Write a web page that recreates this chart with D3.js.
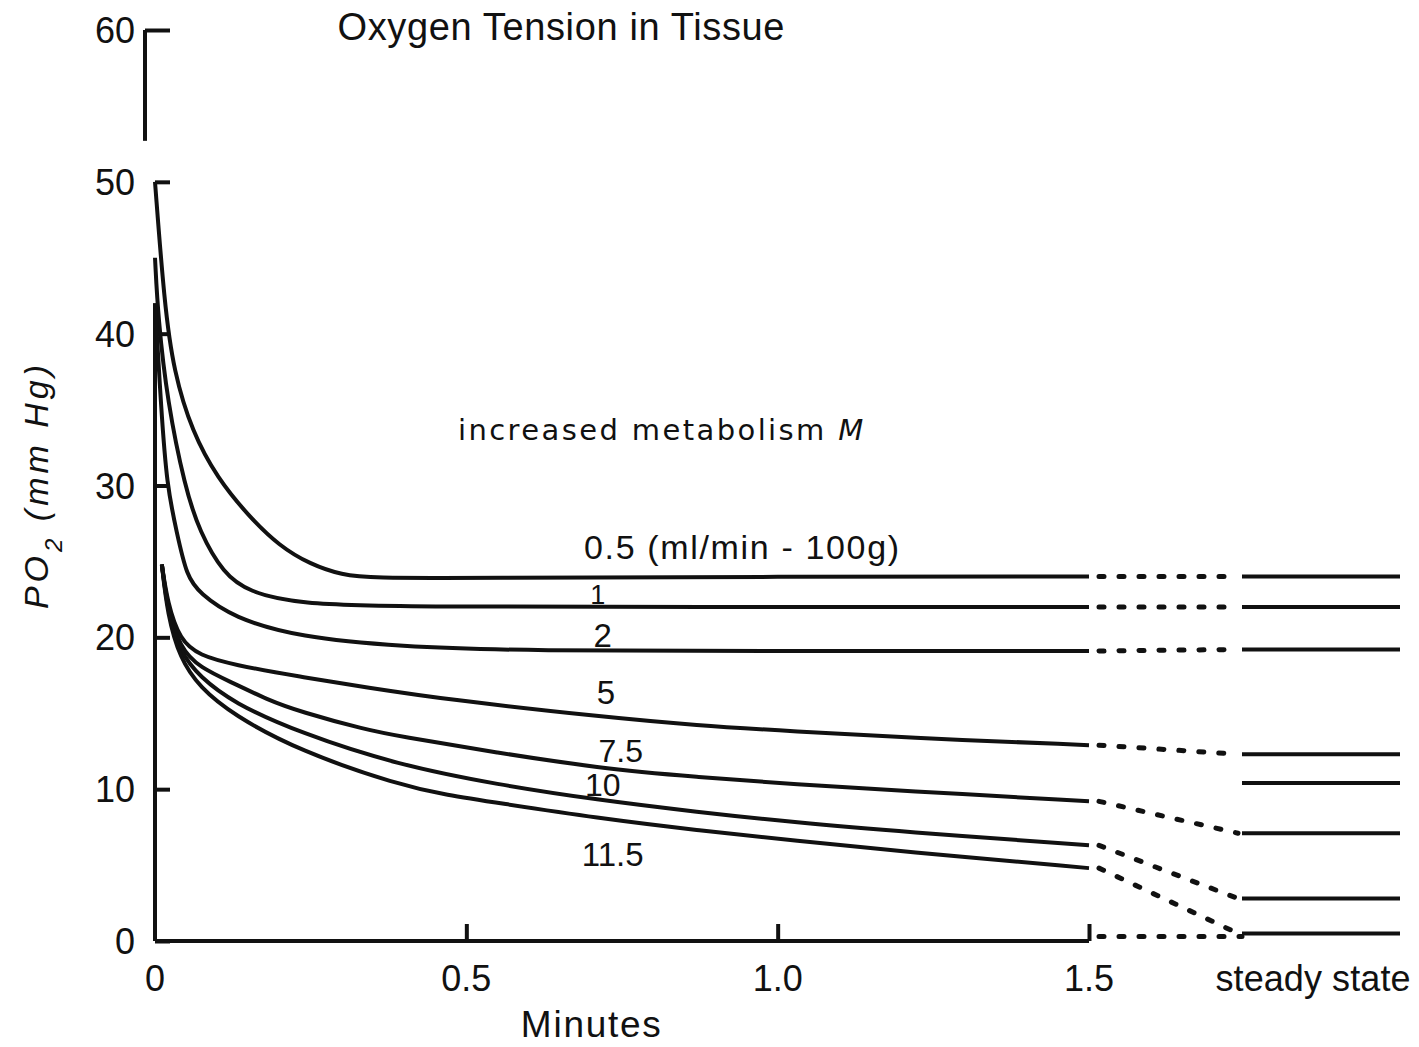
<!DOCTYPE html>
<html>
<head>
<meta charset="utf-8">
<script src="https://cdn.jsdelivr.net/npm/d3@7"></script>
<style>
body { margin: 0; background: #fff; }
text { font-family: "Liberation Sans", Arial, sans-serif; fill: #111; }
</style>
</head>
<body>
<script>

// metabolism M (ml/min - 100g), one curve each
var metabolism = ["0.5", "1", "2", "5", "7.5", "10", "11.5"];

// [minutes, PO2 mm Hg]
var curve05 = [[0,50],[0.015,42],[0.03,37.5],[0.06,33.5],[0.1,30.5],[0.15,28],[0.2,26],[0.25,24.8],[0.3,24.1],[0.35,23.9],[0.5,23.9],[1.0,24],[1.5,24]];
var curve1 = [[0,45],[0.005,41],[0.02,35.5],[0.048,29.9],[0.072,26.9],[0.11,24.2],[0.15,23],[0.23,22.2],[0.4,22],[1.0,22],[1.5,22]];
var curve2 = [[0,42],[0.01,35],[0.019,30],[0.035,26.9],[0.051,24],[0.072,22.9],[0.125,21.3],[0.233,20],[0.39,19.4],[0.6,19.1],[1.0,19.1],[1.5,19.1]];
var curve5 = [[0.011,24.8],[0.02,22.3],[0.04,19.8],[0.072,18.8],[0.125,18.2],[0.233,17.4],[0.34,16.7],[0.47,15.9],[0.71,14.8],[0.87,14.2],[1.03,13.8],[1.2,13.4],[1.5,12.9]];
var curve75 = [[0.011,24.8],[0.02,22],[0.04,19.3],[0.072,18],[0.125,17],[0.18,15.9],[0.233,15.1],[0.34,13.9],[0.39,13.5],[0.55,12.4],[0.71,11.4],[0.87,10.8],[1.03,10.3],[1.2,9.9],[1.5,9.2]];
var curve10 = [[0.011,24.8],[0.02,21.8],[0.04,19],[0.072,17.4],[0.125,15.7],[0.233,13.7],[0.39,11.6],[0.55,10.3],[0.71,9.3],[0.87,8.5],[1.03,7.8],[1.2,7.2],[1.5,6.3]];
var curve115 = [[0.011,24.8],[0.02,21.5],[0.04,18.6],[0.072,16.7],[0.125,14.9],[0.233,12.5],[0.39,10.3],[0.47,9.6],[0.55,9.1],[0.71,8.1],[0.87,7.3],[1.03,6.6],[1.2,5.9],[1.5,4.8]];

// steady state level for each curve, plus one unconnected level
var steadyState = [24.0, 22.0, 19.2, 12.3, 7.1, 2.8, 0.5];
var extraSteady = [10.4];

var yTicks = [0, 10, 20, 30, 40, 50, 60];
var xTicks = [0, 0.5, 1.0, 1.5];
var xTickLabels = ["0", "0.5", "1.0", "1.5"];
var yBreak = [42, 52.7];   // gap in the y axis line

var curves = [curve05, curve1, curve2, curve5, curve75, curve10, curve115];

var svgWidth = 1419, svgHeight = 1047;

var svg = d3.select("body").append("svg")
    .attr("width", svgWidth)
    .attr("height", svgHeight);

var x = d3.scaleLinear().domain([0, 1.5]).range([155, 1089]);
var y = d3.scaleLinear().domain([0, 60]).range([941, 30]);
var steady = d3.scaleBand().domain(["steady state"]).range([1242, 1400]);
var sx0 = steady("steady state"), sx1 = sx0 + steady.bandwidth();

// y axis
var yAxis = svg.append("g")
    .attr("transform", `translate(${x(0)},0)`)
    .call(d3.axisRight(y).tickValues(yTicks).tickSize(15).tickFormat(""));
yAxis.select(".domain").remove();
yAxis.selectAll("line").attr("stroke", "#111").attr("stroke-width", 4);

svg.append("line")
    .attr("x1", x(0) - 10).attr("x2", x(0) - 10)
    .attr("y1", y(60)).attr("y2", y(yBreak[1]))
    .attr("stroke", "#111").attr("stroke-width", 4);
yAxis.selectAll(".tick").filter(d => d == 60).select("line")
    .attr("x1", -10);
svg.append("line")
    .attr("x1", x(0)).attr("x2", x(0))
    .attr("y1", y(yBreak[0])).attr("y2", y(0))
    .attr("stroke", "#111").attr("stroke-width", 4);

svg.selectAll(".ylab")
    .data(yTicks)
    .enter()
    .append("text")
    .attr("class", "ylab")
    .attr("x", x(0) - 20)
    .attr("y", d => y(d) + 13)
    .attr("text-anchor", "end")
    .style("font-size", "36px")
    .text(d => d);

// x axis
var xAxis = svg.append("g")
    .attr("transform", `translate(0,${y(0)})`)
    .call(d3.axisTop(x).tickValues(xTicks.slice(1)).tickSize(17).tickFormat(""));
xAxis.select(".domain").remove();
xAxis.selectAll("line").attr("stroke", "#111").attr("stroke-width", 4);

svg.append("line")
    .attr("x1", x(0)).attr("x2", x(1.5))
    .attr("y1", y(0)).attr("y2", y(0))
    .attr("stroke", "#111").attr("stroke-width", 4);
svg.append("line")
    .attr("x1", x(1.5) + 10).attr("x2", sx0)
    .attr("y1", y(0.3)).attr("y2", y(0.3))
    .attr("stroke", "#111").attr("stroke-width", 5)
    .attr("stroke-linecap", "round")
    .attr("stroke-dasharray", "5 15");

svg.selectAll(".xlab")
    .data(xTicks)
    .enter()
    .append("text")
    .attr("class", "xlab")
    .attr("x", d => x(d))
    .attr("y", y(0) + 50)
    .attr("text-anchor", "middle")
    .style("font-size", "36px")
    .text((d, i) => xTickLabels[i]);

svg.append("text")
    .attr("x", sx0 + steady.bandwidth() / 2 - 8)
    .attr("y", y(0) + 50)
    .attr("text-anchor", "middle")
    .attr("textLength", 195)
    .style("font-size", "36px")
    .text("steady state");

svg.append("text")
    .attr("x", x(0.7))
    .attr("y", y(0) + 96)
    .attr("text-anchor", "middle")
    .attr("textLength", 140)
    .style("font-size", "37px")
    .text("Minutes");

// titles
svg.append("text")
    .attr("x", 561)
    .attr("y", 40)
    .attr("text-anchor", "middle")
    .attr("textLength", 447)
    .style("font-size", "38px")
    .text("Oxygen Tension in Tissue");

var incr = svg.append("text")
    .attr("x", 458)
    .attr("y", 440)
    .style("font-family", "'DejaVu Sans', sans-serif")
    .style("font-size", "29px")
    .style("letter-spacing", "2.4px");
incr.append("tspan").text("increased metabolism ");
incr.append("tspan").style("font-style", "italic").text("M");

var ylab = svg.append("text")
    .attr("transform", "translate(48,485) rotate(-90)")
    .attr("text-anchor", "middle")
    .style("font-size", "34px")
    .style("font-style", "italic")
    .style("letter-spacing", "4px");
ylab.append("tspan").text("PO");
ylab.append("tspan").attr("baseline-shift", "sub").style("font-size", "24px").text("2");
ylab.append("tspan").text("  (mm Hg)");

// curves
var line = d3.line()
    .x(d => x(d[0]))
    .y(d => y(d[1]))
    .curve(d3.curveBasis);

svg.selectAll(".curve")
    .data(curves)
    .enter()
    .append("path")
    .attr("class", "curve")
    .attr("d", line)
    .attr("fill", "none")
    .attr("stroke", "#111")
    .attr("stroke-width", 4);

// dashed links to steady state
svg.selectAll(".link")
    .data(curves)
    .enter()
    .append("line")
    .attr("class", "link")
    .attr("x1", d => x(d[d.length - 1][0]) + 10)
    .attr("y1", d => y(d[d.length - 1][1]))
    .attr("x2", sx0 - 4)
    .attr("y2", (d, i) => y(steadyState[i]))
    .attr("stroke", "#111")
    .attr("stroke-width", 5)
    .attr("stroke-linecap", "round")
    .attr("stroke-dasharray", "5 15");

svg.selectAll(".steady")
    .data(steadyState.concat(extraSteady))
    .enter()
    .append("line")
    .attr("class", "steady")
    .attr("x1", sx0).attr("x2", sx1)
    .attr("y1", d => y(d)).attr("y2", d => y(d))
    .attr("stroke", "#111")
    .attr("stroke-width", 4);

// curve labels, placed just over (or under) their curve
function valueAt(c, t) {
    for (var k = 1; k < c.length; k++) {
        if (c[k][0] >= t) {
            var f = (t - c[k - 1][0]) / (c[k][0] - c[k - 1][0]);
            return c[k - 1][1] + f * (c[k][1] - c[k - 1][1]);
        }
    }
    return c[c.length - 1][1];
}
var labelT = [0.942, 0.711, 0.719, 0.724, 0.748, 0.719, 0.735];
var labelDy = [-18, -3, -4, -13, -8, -4, 46];
var labelSize = [34, 27, 33, 33, 32, 32, 33];

svg.selectAll(".clab")
    .data(metabolism)
    .enter()
    .append("text")
    .attr("class", "clab")
    .attr("x", (d, i) => x(labelT[i]))
    .attr("y", (d, i) => y(valueAt(curves[i], labelT[i])) + labelDy[i])
    .attr("text-anchor", "middle")
    .attr("textLength", (d, i) => i == 0 ? 315 : null)
    .style("font-size", (d, i) => labelSize[i] + "px")
    .text((d, i) => i == 0 ? d + " (ml/min - 100g)" : d);

</script>
</body>
</html>
